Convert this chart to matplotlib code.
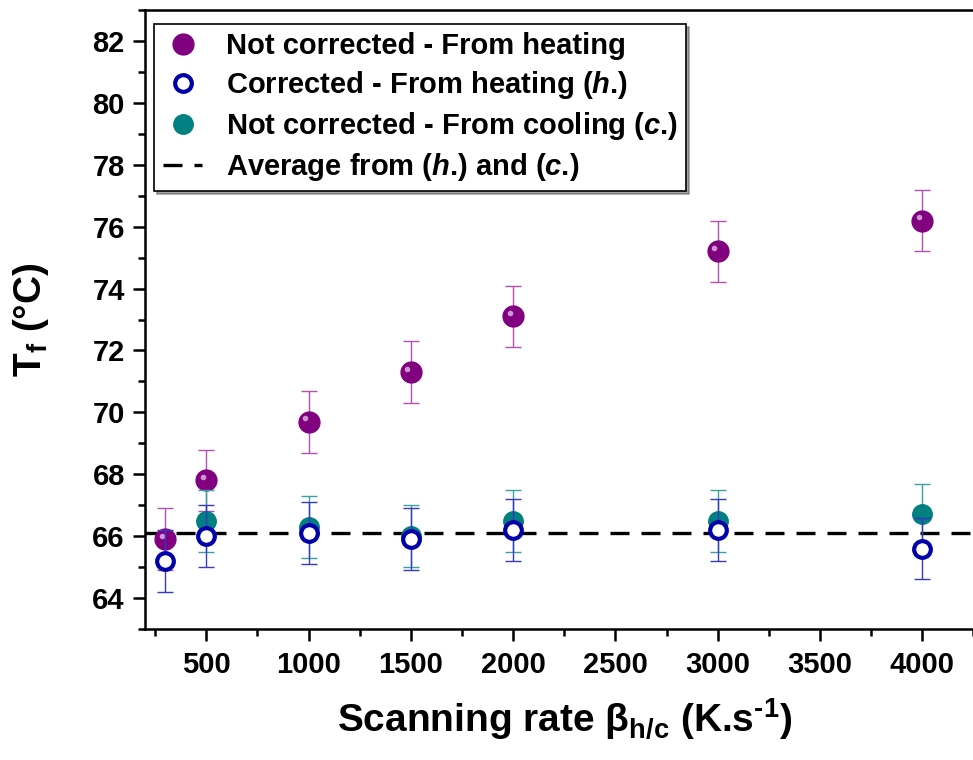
import matplotlib
matplotlib.use('Agg')
import matplotlib.pyplot as plt
from matplotlib.ticker import MultipleLocator
from matplotlib.transforms import offset_copy

plt.rcParams['font.family'] = ['Liberation Sans', 'DejaVu Sans']
plt.rcParams['font.weight'] = 'bold'
plt.rcParams['mathtext.fontset'] = 'custom'
plt.rcParams['mathtext.rm'] = 'Liberation Sans:bold'
plt.rcParams['mathtext.bf'] = 'Liberation Sans:bold'
plt.rcParams['mathtext.it'] = 'Liberation Sans:italic:bold'

# -------- data --------
rate_heat = [300, 500, 1000, 1500, 2000, 3000, 4000]
tf_not_corr_heat = [65.9, 67.8, 69.7, 71.3, 73.1, 75.2, 76.2]
tf_corr_heat = [65.2, 66.0, 66.1, 65.9, 66.2, 66.2, 65.6]
err_heat = [1, 1, 1, 1, 1, 1, 1]

rate_cool = [500, 1000, 1500, 2000, 3000, 4000]
tf_cool = [66.5, 66.3, 66.0, 66.5, 66.5, 66.7]
err_cool = [1, 1, 1, 1, 1, 1]

tf_average = 66.1

fig = plt.figure(figsize=(9.73, 7.6), dpi=100)
ax = fig.add_axes([0.149, 0.1724, 0.862, 0.8143])

purple = '#800080'
teal = '#008080'
blue = '#0000A8'

# Not corrected - heating
ax.errorbar(rate_heat, tf_not_corr_heat, yerr=err_heat, fmt='none',
            ecolor='#B050B0', elinewidth=1.0, capsize=6, capthick=1.0, zorder=2)
h1, = ax.plot(rate_heat, tf_not_corr_heat, 'o', color=purple, ms=15,
              mec=purple, zorder=3, label='Not corrected - From heating')
# small highlight to mimic the sphere look
hl = offset_copy(ax.transData, fig=fig, x=-2.5, y=2.5, units='points')
ax.plot(rate_heat, tf_not_corr_heat, 'o', color='#D8A8D8', ms=4, mew=0,
        alpha=0.9, transform=hl, zorder=3.1)

# Not corrected - cooling
ax.errorbar(rate_cool, tf_cool, yerr=err_cool, fmt='none',
            ecolor='#3AA0A0', elinewidth=1.0, capsize=6, capthick=1.0, zorder=4)
h3, = ax.plot(rate_cool, tf_cool, 'o', color=teal, ms=14, mec=teal,
              zorder=5, label='Not corrected - From cooling ($\\mathit{c}$.)')

# Corrected - heating
ax.errorbar(rate_heat, tf_corr_heat, yerr=err_heat, fmt='none',
            ecolor='#3838C0', elinewidth=1.0, capsize=6, capthick=1.0, zorder=6)
h2, = ax.plot(rate_heat, tf_corr_heat, 'o', mfc='white', mec=blue, ms=12,
              mew=3.0, zorder=7, label='Corrected - From heating ($\\mathit{h}$.)')

# average line
h4 = ax.axhline(tf_average, color='black', lw=2.4, ls=(0, (5.7, 3.6)), zorder=1,
                label='Average from ($\\mathit{h}$.) and ($\\mathit{c}$.)')

ax.set_xlim(200, 4300)
ax.set_ylim(63, 83)
ax.xaxis.set_major_locator(MultipleLocator(500))
ax.xaxis.set_minor_locator(MultipleLocator(250))
ax.yaxis.set_major_locator(MultipleLocator(2))
ax.yaxis.set_minor_locator(MultipleLocator(1))

for s in ax.spines.values():
    s.set_linewidth(1.8)
ax.tick_params(which='major', direction='out', length=8.5, width=1.8,
               labelsize=21, top=False, right=False)
ax.tick_params(axis='x', which='major', pad=7)
ax.tick_params(axis='y', which='major', pad=6)
ax.tick_params(which='minor', direction='out', length=5, width=1.8,
               top=False, right=False)
for lab in ax.get_xticklabels() + ax.get_yticklabels():
    lab.set_fontweight('bold')

ax.set_xlabel('Scanning rate β$_{\\mathrm{h/c}}$ (K.s$^{\\text{-1}}$)',
              fontsize=28, fontweight='bold', labelpad=13)
ax.set_ylabel('T$_{\\mathrm{f}}$ (°C)', fontsize=28, fontweight='bold', labelpad=30)

leg = ax.legend(handles=[h1, h2, h3, h4], loc='upper left',
                bbox_to_anchor=(0.011, 0.978), borderaxespad=0,
                frameon=True, fancybox=False, shadow=True,
                handlelength=1.35, handletextpad=0.8, labelspacing=0.3,
                borderpad=0.3, prop={'weight': 'bold', 'size': 21})
leg.get_frame().set_edgecolor('black')
leg.get_frame().set_linewidth(1.2)

fig.savefig('out.png', dpi=100)
